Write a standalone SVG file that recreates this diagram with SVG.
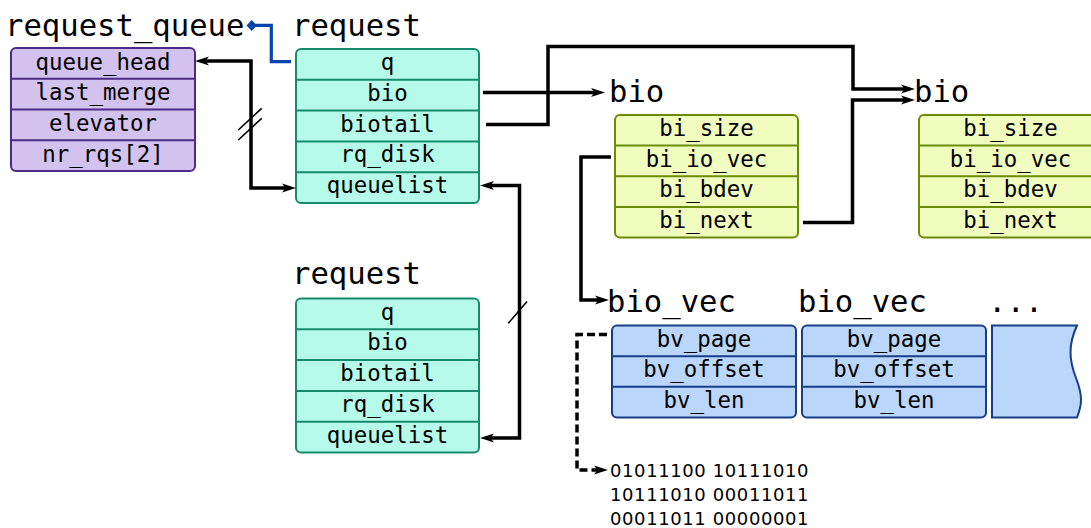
<svg xmlns="http://www.w3.org/2000/svg" width="1091" height="528" viewBox="0 0 1091 528">
<defs>
<style>
.title{font-family:"DejaVu Sans Mono","Liberation Mono",monospace;font-size:30.6px;fill:#000}
.row{font-family:"DejaVu Sans Mono","Liberation Mono",monospace;font-size:22.4px;fill:#000;text-anchor:middle}
.bin{font-family:"DejaVu Sans","Liberation Sans",sans-serif;font-size:18px;letter-spacing:0.6px;fill:#000}
.rq rect,.rq line{stroke:#4b2b86}
.rq rect{fill:#d4c2ee}
.req rect,.req line{stroke:#178a6d}
.req rect{fill:#b6fbe9}
.bio rect,.bio line{stroke:#6c8b00}
.bio rect{fill:#f1fcbf}
.bv rect,.bv line,.bv path{stroke:#173e86}
.bv rect,.bv path{fill:#bad6fb}
rect,line.div,path.box{stroke-width:2}
.conn{fill:none;stroke:#000;stroke-width:3.5}
.dash{stroke-dasharray:8,4}
.slash{stroke:#000;stroke-width:1.6}
</style>
<marker id="ah" markerUnits="userSpaceOnUse" markerWidth="22" markerHeight="14" refX="10" refY="6" orient="auto-start-reverse" viewBox="0 0 22 12">
<path d="M20,6 L6,1.5 L9.5,6 L6,10.5 Z" fill="#000"/>
</marker>
</defs>

<!-- titles -->
<text class="title" x="5" y="36">request_queue</text>
<text class="title" x="292" y="36">request</text>
<text class="title" x="292" y="284">request</text>
<text class="title" x="609" y="101.5">bio</text>
<text class="title" x="914" y="101.5">bio</text>
<text class="title" x="607" y="312">bio_vec</text>
<text class="title" x="798" y="312">bio_vec</text>
<text class="title" x="988" y="312">...</text>

<g id="request_queue" class="rq">
<rect x="11" y="48" width="184" height="123" rx="5"/>
<line class="div" x1="11" y1="78.75" x2="195" y2="78.75"/>
<line class="div" x1="11" y1="109.5" x2="195" y2="109.5"/>
<line class="div" x1="11" y1="140.25" x2="195" y2="140.25"/>
<text class="row" x="103" y="69.5">queue_head</text>
<text class="row" x="103" y="100">last_merge</text>
<text class="row" x="103" y="131">elevator</text>
<text class="row" x="103" y="161.5">nr_rqs[2]</text>
</g>

<g id="request1" class="req">
<rect x="296" y="49" width="183" height="154" rx="5"/>
<line class="div" x1="296" y1="79.8" x2="479" y2="79.8"/>
<line class="div" x1="296" y1="110.6" x2="479" y2="110.6"/>
<line class="div" x1="296" y1="141.4" x2="479" y2="141.4"/>
<line class="div" x1="296" y1="172.2" x2="479" y2="172.2"/>
<text class="row" x="387.5" y="70">q</text>
<text class="row" x="387.5" y="100.7">bio</text>
<text class="row" x="387.5" y="131.5">biotail</text>
<text class="row" x="387.5" y="162.3">rq_disk</text>
<text class="row" x="387.5" y="193.1">queuelist</text>
</g>

<g id="request2" class="req">
<rect x="296" y="298.5" width="183" height="154" rx="5"/>
<line class="div" x1="296" y1="329.3" x2="479" y2="329.3"/>
<line class="div" x1="296" y1="360.1" x2="479" y2="360.1"/>
<line class="div" x1="296" y1="390.9" x2="479" y2="390.9"/>
<line class="div" x1="296" y1="421.7" x2="479" y2="421.7"/>
<text class="row" x="387.5" y="319.5">q</text>
<text class="row" x="387.5" y="350.2">bio</text>
<text class="row" x="387.5" y="381">biotail</text>
<text class="row" x="387.5" y="411.8">rq_disk</text>
<text class="row" x="387.5" y="442.6">queuelist</text>
</g>

<g id="bio1" class="bio">
<rect x="615" y="115" width="183" height="122.5" rx="5"/>
<line class="div" x1="615" y1="145.6" x2="798" y2="145.6"/>
<line class="div" x1="615" y1="176.2" x2="798" y2="176.2"/>
<line class="div" x1="615" y1="206.9" x2="798" y2="206.9"/>
<text class="row" x="706.5" y="136">bi_size</text>
<text class="row" x="706.5" y="166.6">bi_io_vec</text>
<text class="row" x="706.5" y="197.2">bi_bdev</text>
<text class="row" x="706.5" y="227.8">bi_next</text>
</g>

<g id="bio2" class="bio">
<rect x="919" y="115" width="183" height="122.5" rx="5"/>
<line class="div" x1="919" y1="145.6" x2="1102" y2="145.6"/>
<line class="div" x1="919" y1="176.2" x2="1102" y2="176.2"/>
<line class="div" x1="919" y1="206.9" x2="1102" y2="206.9"/>
<text class="row" x="1010.5" y="136">bi_size</text>
<text class="row" x="1010.5" y="166.6">bi_io_vec</text>
<text class="row" x="1010.5" y="197.2">bi_bdev</text>
<text class="row" x="1010.5" y="227.8">bi_next</text>
</g>

<g id="bio_vec1" class="bv">
<rect x="612" y="325.5" width="184" height="92" rx="5"/>
<line class="div" x1="612" y1="356.2" x2="796" y2="356.2"/>
<line class="div" x1="612" y1="386.8" x2="796" y2="386.8"/>
<text class="row" x="704" y="346.5">bv_page</text>
<text class="row" x="704" y="377.2">bv_offset</text>
<text class="row" x="704" y="407.8">bv_len</text>
</g>

<g id="bio_vec2" class="bv">
<rect x="802" y="325.5" width="184" height="92" rx="5"/>
<line class="div" x1="802" y1="356.2" x2="986" y2="356.2"/>
<line class="div" x1="802" y1="386.8" x2="986" y2="386.8"/>
<text class="row" x="894" y="346.5">bv_page</text>
<text class="row" x="894" y="377.2">bv_offset</text>
<text class="row" x="894" y="407.8">bv_len</text>
</g>

<g id="bio_vec_more" class="bv">
<path class="box" d="M992,325.5 L1077,325.5 C1068,345 1069,360 1076,378 C1083,396 1082,405 1077,417.5 L992,417.5 Z"/>
</g>

<g id="binary">
<text class="bin" x="610" y="477">01011100 10111010</text>
<text class="bin" x="610" y="501">10111010 00011011</text>
<text class="bin" x="610" y="525">00011011 00000001</text>
</g>

<g id="connectors">
<polygon points="246.5,25.5 251.7,20 257,25.5 251.7,31" fill="#0645ad"/>
<path d="M255,25.3 H271.3 V61.7 H291" fill="none" stroke="#0645ad" stroke-width="3.2"/>
<path class="conn" d="M205,61 H251 V188 H286" marker-start="url(#ah)" marker-end="url(#ah)"/>
<path class="conn" d="M490,185.5 H519.5 V438 H490" marker-start="url(#ah)" marker-end="url(#ah)"/>
<path class="conn" d="M483,92.5 H595" marker-end="url(#ah)"/>
<path class="conn" d="M486,124.5 H548 V46.5 H853 V89 H905" marker-end="url(#ah)"/>
<path class="conn" d="M803,222.5 H852.5 V100 H905" marker-end="url(#ah)"/>
<path class="conn" d="M611,157 H581 V300 H599" marker-end="url(#ah)"/>
<path class="conn dash" d="M607,334.5 H577 V470 H598" marker-end="url(#ah)"/>
<line class="slash" x1="238.3" y1="130" x2="261.7" y2="108.3"/>
<line class="slash" x1="238.3" y1="140" x2="261.7" y2="118.3"/>
<line class="slash" x1="508.3" y1="323.3" x2="527" y2="301.5"/>
</g>
</svg>
